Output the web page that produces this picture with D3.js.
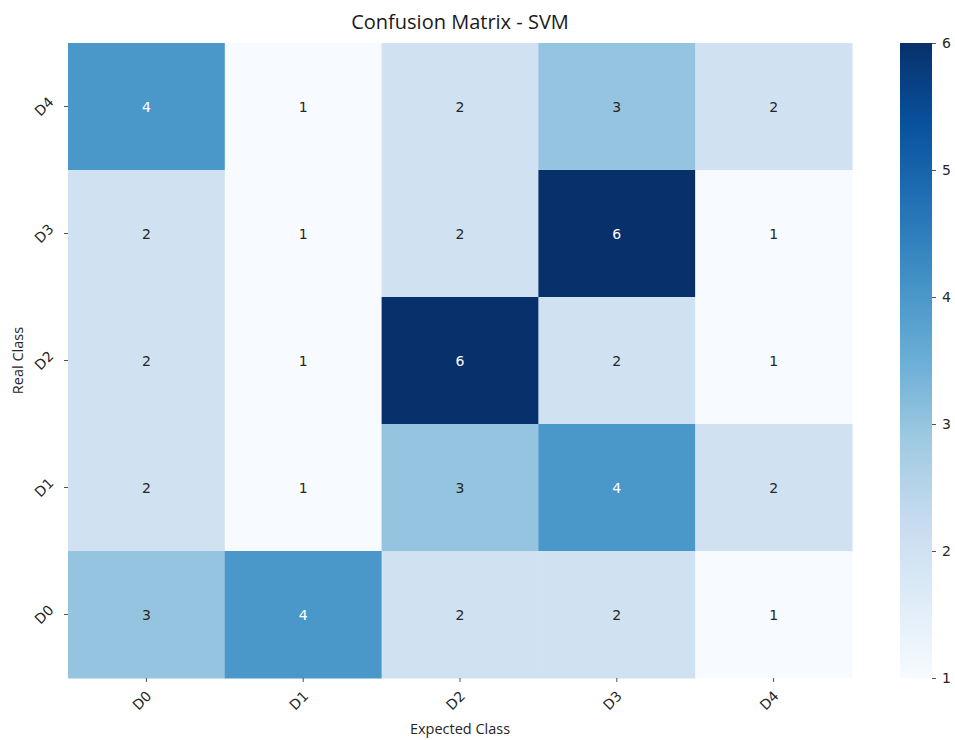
<!DOCTYPE html>
<html>
<head>
<meta charset="utf-8">
<script src="https://cdn.jsdelivr.net/npm/d3@7"></script>
<style>
  html, body { margin: 0; padding: 0; background: #fff; }
</style>
</head>
<body>
<svg id="chart" width="955" height="740"></svg>
<script>
// Confusion matrix counts: rows are real classes (top to bottom), columns are expected classes.
const predictedClasses = ["D0", "D1", "D2", "D3", "D4"];
const realClasses = ["D4", "D3", "D2", "D1", "D0"];
const rowD4 = [4, 1, 2, 3, 2];
const rowD3 = [2, 1, 2, 6, 1];
const rowD2 = [2, 1, 6, 2, 1];
const rowD1 = [2, 1, 3, 4, 2];
const rowD0 = [3, 4, 2, 2, 1];
const matrixRows = [rowD4, rowD3, rowD2, rowD1, rowD0];
const colorbarTicks = [1, 2, 3, 4, 5, 6];

const svg = d3.select("#chart");
const plot = { left: 68, right: 852, top: 43, bottom: 678 };
const cbar = { left: 900, right: 932 };

// Blues palette, evenly spaced linear segments
const bluesStops = ["#f7fbff", "#deebf7", "#c6dbef", "#9ecae1", "#6baed6",
                    "#4292c6", "#2171b5", "#08519c", "#08306b"];
const vmin = 1, vmax = 6;
const blues = d3.scaleLinear()
  .domain(bluesStops.map((_, i) => i / (bluesStops.length - 1)))
  .range(bluesStops)
  .interpolate(d3.interpolateRgb);
const color = v => blues((v - vmin) / (vmax - vmin));

const x = d3.scaleBand().domain(predictedClasses).range([plot.left, plot.right]);
const y = d3.scaleBand().domain(realClasses).range([plot.top, plot.bottom]);

const cells = [];
matrixRows.forEach((row, ri) => row.forEach((v, ci) => cells.push({
  real: realClasses[ri], pred: predictedClasses[ci], value: v
})));

svg.append("g").selectAll("rect").data(cells).join("rect")
  .attr("x", d => x(d.pred))
  .attr("y", d => y(d.real))
  .attr("width", x.bandwidth() + 0.5)
  .attr("height", y.bandwidth() + 0.5)
  .attr("fill", d => color(d.value));

// Annotation text: light text on dark cells
function lum(c) {
  const rgb = d3.rgb(c);
  const f = u => { u /= 255; return u <= 0.03928 ? u / 12.92 : Math.pow((u + 0.055) / 1.055, 2.4); };
  return 0.2126 * f(rgb.r) + 0.7152 * f(rgb.g) + 0.0722 * f(rgb.b);
}
svg.append("g").selectAll("text").data(cells).join("text")
  .attr("x", d => x(d.pred) + x.bandwidth() / 2)
  .attr("y", d => y(d.real) + y.bandwidth() / 2)
  .attr("text-anchor", "middle")
  .attr("dominant-baseline", "central")
  .attr("font-family", "DejaVu Sans, sans-serif")
  .attr("font-size", 14)
  .attr("fill", d => lum(color(d.value)) > 0.408 ? "#262626" : "#ffffff")
  .text(d => d.value);

// X axis
const xAxis = svg.append("g")
  .attr("transform", `translate(0,${plot.bottom})`)
  .call(d3.axisBottom(x).tickSize(4).tickPadding(4));
xAxis.select(".domain").remove();
xAxis.selectAll(".tick line").attr("stroke", "#262626").attr("stroke-width", 0.8);
xAxis.selectAll(".tick text")
  .attr("font-family", "DejaVu Sans, sans-serif")
  .attr("font-size", 14)
  .attr("fill", "#262626")
  .attr("text-anchor", "end")
  .attr("dy", null)
  .attr("y", 0)
  .attr("transform", "translate(6,19) rotate(-45)");

// Y axis
const yAxis = svg.append("g")
  .attr("transform", `translate(${plot.left},0)`)
  .call(d3.axisLeft(y).tickSize(4).tickPadding(4));
yAxis.select(".domain").remove();
yAxis.selectAll(".tick line").attr("stroke", "#262626").attr("stroke-width", 0.8);
yAxis.selectAll(".tick text")
  .attr("font-family", "DejaVu Sans, sans-serif")
  .attr("font-size", 14)
  .attr("fill", "#262626")
  .attr("text-anchor", "middle")
  .attr("dy", null)
  .attr("x", 0)
  .attr("dominant-baseline", "central")
  .attr("transform", "translate(-24,0) rotate(-45)");

// Title and axis labels
svg.append("text")
  .attr("x", (plot.left + plot.right) / 2)
  .attr("y", 29)
  .attr("text-anchor", "middle")
  .attr("font-family", "Open Sans, sans-serif")
  .attr("font-size", 20)
  .attr("fill", "#1a1a1a")
  .text("Confusion Matrix - SVM");

svg.append("text")
  .attr("x", (plot.left + plot.right) / 2)
  .attr("y", 734)
  .attr("text-anchor", "middle")
  .attr("font-family", "Open Sans, sans-serif")
  .attr("font-size", 14.5)
  .attr("fill", "#262626")
  .text("Expected Class");

svg.append("text")
  .attr("transform", `translate(23,${(plot.top + plot.bottom) / 2}) rotate(-90)`)
  .attr("text-anchor", "middle")
  .attr("font-family", "Open Sans, sans-serif")
  .attr("font-size", 14.5)
  .attr("fill", "#262626")
  .text("Real Class");

// Colorbar
const defs = svg.append("defs");
const grad = defs.append("linearGradient")
  .attr("id", "cbarGrad")
  .attr("x1", 0).attr("y1", 1).attr("x2", 0).attr("y2", 0);
d3.range(0, 1.0001, 0.02).forEach(t => {
  grad.append("stop").attr("offset", t).attr("stop-color", blues(t));
});
const cy = d3.scaleLinear().domain([vmin, vmax]).range([plot.bottom, plot.top]);
svg.append("rect")
  .attr("x", cbar.left)
  .attr("y", plot.top)
  .attr("width", cbar.right - cbar.left)
  .attr("height", plot.bottom - plot.top)
  .attr("fill", "url(#cbarGrad)");
const cAxis = svg.append("g")
  .attr("transform", `translate(${cbar.right},0)`)
  .call(d3.axisRight(cy).tickValues(colorbarTicks).tickFormat(d3.format("d")).tickSize(4).tickPadding(6));
cAxis.select(".domain").remove();
cAxis.selectAll(".tick line").attr("stroke", "#262626").attr("stroke-width", 0.8);
cAxis.selectAll(".tick text")
  .attr("font-family", "DejaVu Sans, sans-serif")
  .attr("font-size", 14)
  .attr("fill", "#262626");
</script>
</body>
</html>
